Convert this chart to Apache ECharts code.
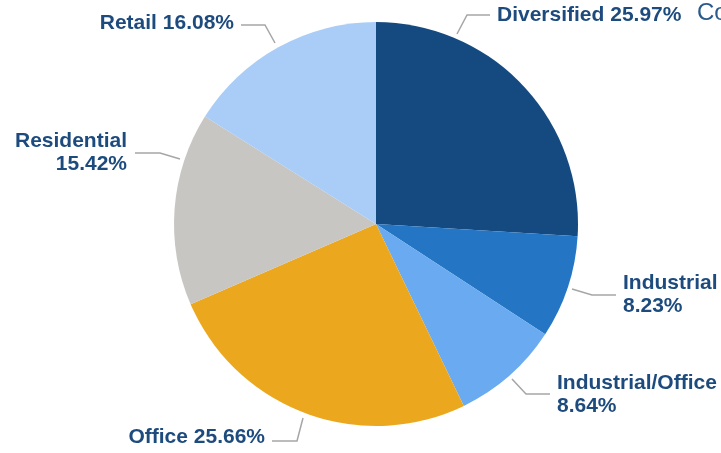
<!DOCTYPE html>
<html>
<head>
<meta charset="utf-8">
<script src="https://cdn.jsdelivr.net/npm/echarts@6/dist/echarts.min.js"></script>
<style>
  html, body { margin: 0; padding: 0; background: #ffffff; }
  #chart { width: 721px; height: 453px; }
</style>
</head>
<body>
<div id="chart"></div>
<script>
// Portfolio split by property type (percent of total)
const categories = ['Diversified', 'Industrial', 'Industrial/Office', 'Office', 'Residential', 'Retail'];
const shares = [25.97, 8.23, 8.64, 25.66, 15.42, 16.08];
const sliceColors = ['#154a80', '#2476c4', '#6aaaf0', '#eba81f', '#c8c6c3', '#a9cdf7'];

// Label placement per slice: anchor, alignment, and leader-line path
const labelPlacement = [
  { x: 497, y: 15,    align: 'left',  twoLine: false, line: [[457, 34], [467, 15], [490, 15]] },
  { x: 623, y: 294.5, align: 'left',  twoLine: true,  line: [[572, 289], [592, 295], [616, 295]] },
  { x: 557, y: 394.5, align: 'left',  twoLine: true,  line: [[512, 379], [526, 394], [550, 394]] },
  { x: 265, y: 437,   align: 'right', twoLine: false, line: [[303, 418], [297, 441], [272, 441]] },
  { x: 127, y: 152.5, align: 'right', twoLine: true,  line: [[180, 159], [160, 153], [135, 153]] },
  { x: 234, y: 23,    align: 'right', twoLine: false, line: [[275, 43], [265, 25], [241, 25]] }
];

const chart = echarts.init(document.getElementById('chart'), null, { renderer: 'canvas' });

chart.setOption({
  animation: false,
  backgroundColor: '#ffffff',
  graphic: [{
    type: 'text',
    left: 697,
    top: 1,
    style: {
      text: 'Co',
      fontFamily: 'Liberation Sans, Arial, sans-serif',
      fontSize: 24,
      fill: '#2a5a8c'
    }
  }],
  series: [{
    type: 'pie',
    center: [376, 224],
    radius: [0, 202],
    startAngle: 90,
    clockwise: true,
    silent: true,
    emphasis: { disabled: true },
    data: categories.map((name, i) => ({
      name: name,
      value: shares[i],
      itemStyle: { color: sliceColors[i] },
      label: { align: labelPlacement[i].align }
    })),
    label: {
      show: true,
      position: 'outside',
      overflow: 'none',
      fontFamily: 'Liberation Sans, Arial, sans-serif',
      fontWeight: 'bold',
      fontSize: 21,
      lineHeight: 23,
      color: '#1d4b7e',
      formatter: p => {
        const pct = p.value.toFixed(2) + '%';
        return labelPlacement[p.dataIndex].twoLine ? p.name + '\n' + pct : p.name + ' ' + pct;
      }
    },
    labelLine: {
      show: true,
      lineStyle: { color: '#a6a6a6', width: 1.5 }
    },
    labelLayout: params => {
      const lp = labelPlacement[params.dataIndex];
      return {
        x: lp.x,
        y: lp.y,
        align: lp.align,
        verticalAlign: 'middle',
        labelLinePoints: lp.line
      };
    }
  }]
});
</script>
</body>
</html>
